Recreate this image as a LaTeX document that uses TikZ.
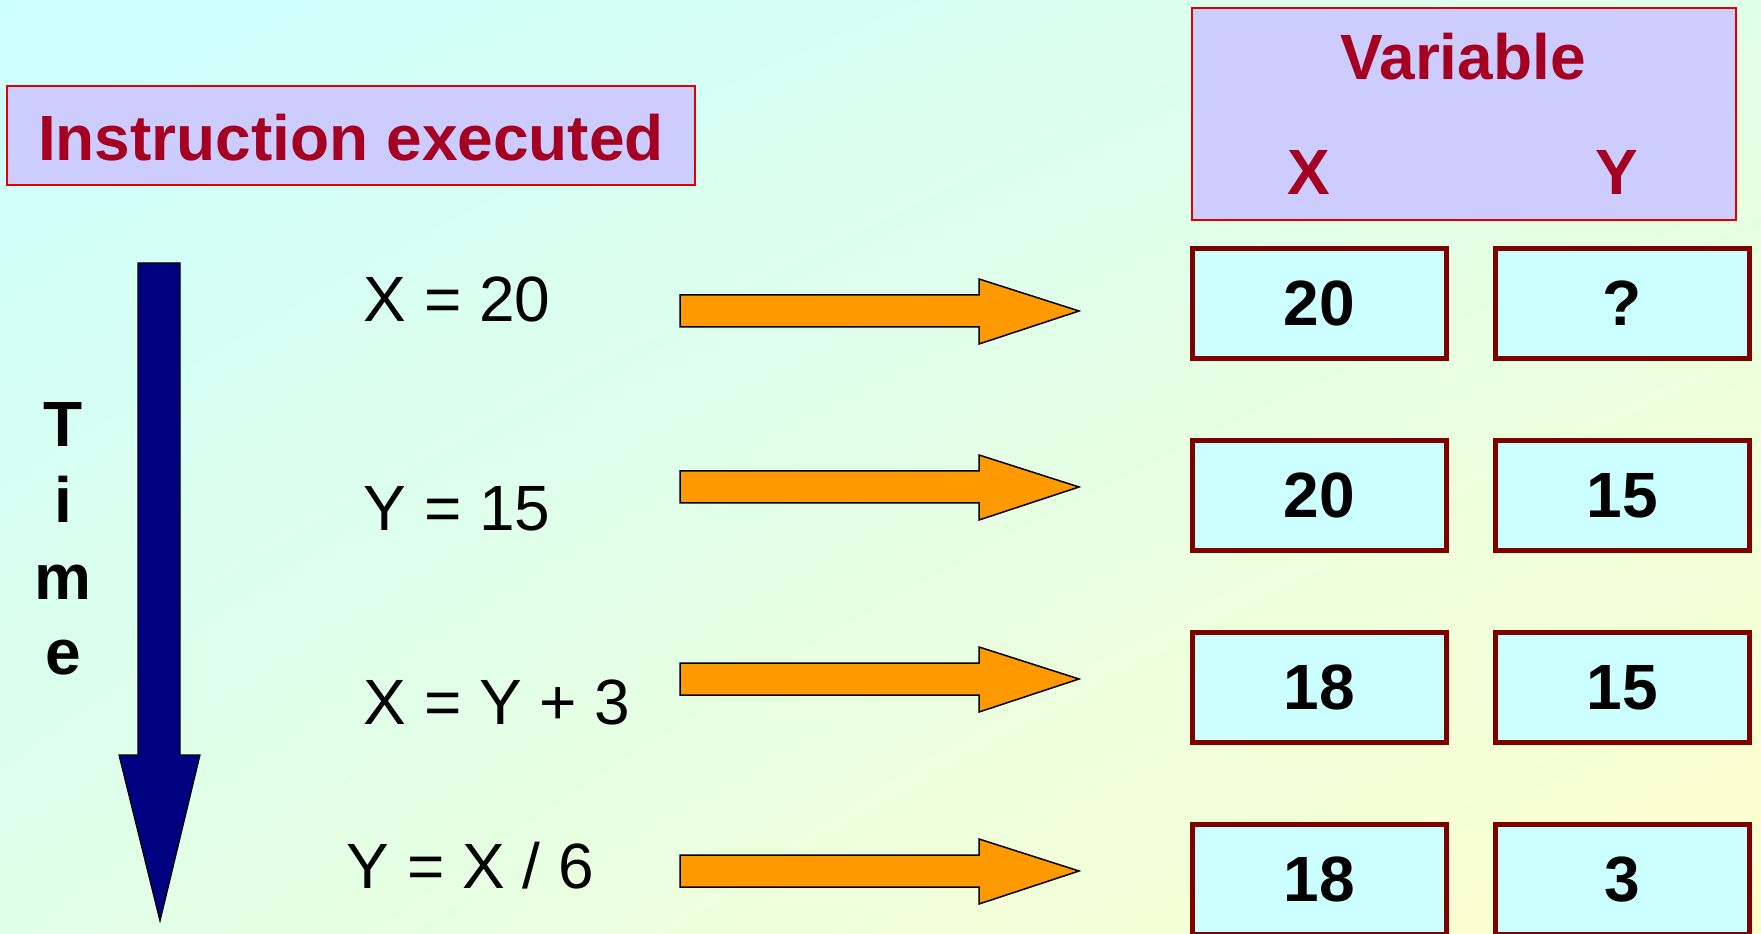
\documentclass[tikz,border=0pt]{standalone}
\usepackage{fontspec}
\usetikzlibrary{shadings}
\setmainfont{Liberation Sans}
\definecolor{bgA}{HTML}{CCFFFF}
\definecolor{bgM}{HTML}{E0FFE8}
\definecolor{bgB}{HTML}{FFFFCC}
\definecolor{hdrfill}{HTML}{CCCCFF}
\definecolor{hdrline}{HTML}{E00000}
\definecolor{hdrtext}{HTML}{A50021}
\definecolor{valfill}{HTML}{CCFFFF}
\definecolor{valline}{HTML}{800000}
\definecolor{timeblue}{HTML}{000080}
\definecolor{arrorange}{HTML}{FF9900}
\begin{document}
\begin{tikzpicture}[x=0.01cm,y=-0.01cm,
  hdrbox/.style={draw=hdrline, fill=hdrfill, line width=0.015cm, inner sep=0},
  hdrtxt/.style={text=hdrtext, font=\fontsize{18.2}{21.6}\selectfont\bfseries, inner sep=0},
  valbox/.style={draw=valline, fill=valfill, line width=0.05cm, minimum width=2.54cm, minimum height=1.10cm, inner sep=0, font=\fontsize{18.2}{21.6}\selectfont\bfseries},
  instr/.style={font=\fontsize{18.2}{21.6}\selectfont, inner sep=0, anchor=base west},
  timeletter/.style={font=\fontsize{18.2}{21.6}\selectfont\bfseries, inner sep=0, anchor=base},
  blockarrow/.style={draw=black, fill=arrorange, line width=0.015cm, line join=miter},
  timearrow/.style={draw=black, fill=timeblue, line width=0.012cm, line join=miter}
]
\shade[upper left=bgA, upper right=bgM, lower left=bgM, lower right=bgB] (0,0) rectangle (1761,934);
\useasboundingbox (0,0) rectangle (1761,934);

% headers
\node[hdrbox, minimum width=6.88cm, minimum height=0.99cm] (instrhdr) at (351,135.5) {};
\node[hdrtxt] (instrtxt) at (351,137.5) {Instruction executed};
\node[hdrbox, minimum width=5.44cm, minimum height=2.12cm] (varhdr) at (1464,114) {};
\node[hdrtxt, anchor=base] (vartxt) at (1463,80) {Variable};
\node[hdrtxt, anchor=base] (xtxt) at (1309,195) {X};
\node[hdrtxt, anchor=base] (ytxt) at (1617,195) {Y};

% value boxes
\node[valbox] (x1) at (1319.5,303.5) {20};
\node[valbox] (y1) at (1622.5,303.5) {?};
\node[valbox] (x2) at (1319.5,495.5) {20};
\node[valbox] (y2) at (1622.5,495.5) {15};
\node[valbox] (x3) at (1319.5,687.5) {18};
\node[valbox] (y3) at (1622.5,687.5) {15};
\node[valbox] (x4) at (1319.5,879.5) {18};
\node[valbox] (y4) at (1622.5,879.5) {3};

% instructions
\node[instr] (i1) at (363,322) {X = 20};
\node[instr] (i2) at (363,531) {Y = 15};
\node[instr] (i3) at (363,724) {X = Y + 3};
\node[instr] (i4) at (346,888) {Y = X / 6};

% block arrows
\foreach \c in {311,487,679,871}{
  \draw[blockarrow] (680,\c-16) -- (979,\c-16) -- (979,\c-32) -- (1079,\c)
    -- (979,\c+33) -- (979,\c+16) -- (680,\c+16) -- cycle;
}

% time arrow
\draw[timearrow] (138,263) -- (180,263) -- (180,755) -- (200,755) -- (160,921)
  -- (119,755) -- (138,755) -- cycle;

% Time letters
\node[timeletter] (t1) at (63,447) {T};
\node[timeletter] (t2) at (63,523) {i};
\node[timeletter] (t3) at (63,600) {m};
\node[timeletter] (t4) at (63,675) {e};
\end{tikzpicture}
\end{document}
